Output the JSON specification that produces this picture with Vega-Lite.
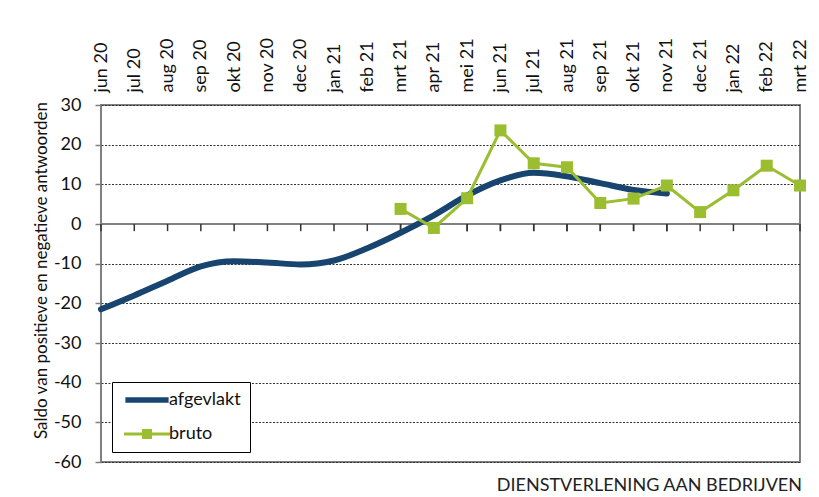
{
  "$schema": "https://vega.github.io/schema/vega-lite/v6.json",
  "autosize": {"type": "none"},
  "padding": {"left": 101, "top": 105, "right": 19, "bottom": 35},
  "width": 699,
  "height": 357,
  "background": "white",
  "title": {"text": "DIENSTVERLENING AAN BEDRIJVEN", "orient": "bottom", "anchor": "end", "font": "Lato", "fontSize": 18, "fontWeight": "normal", "color": "#222", "offset": 6, "dx": -7},
  "data": {"values": [
    {"month": "jun 20", "series": "afgevlakt", "value": -21.5},
    {"month": "jul 20", "series": "afgevlakt", "value": -18.0},
    {"month": "aug 20", "series": "afgevlakt", "value": -14.3},
    {"month": "sep 20", "series": "afgevlakt", "value": -10.7},
    {"month": "okt 20", "series": "afgevlakt", "value": -9.4},
    {"month": "nov 20", "series": "afgevlakt", "value": -9.7},
    {"month": "dec 20", "series": "afgevlakt", "value": -10.2},
    {"month": "jan 21", "series": "afgevlakt", "value": -9.2},
    {"month": "feb 21", "series": "afgevlakt", "value": -6.1},
    {"month": "mrt 21", "series": "afgevlakt", "value": -2.2},
    {"month": "apr 21", "series": "afgevlakt", "value": 2.2},
    {"month": "mei 21", "series": "afgevlakt", "value": 7.2},
    {"month": "jun 21", "series": "afgevlakt", "value": 11.0},
    {"month": "jul 21", "series": "afgevlakt", "value": 12.9},
    {"month": "aug 21", "series": "afgevlakt", "value": 12.0},
    {"month": "sep 21", "series": "afgevlakt", "value": 10.3},
    {"month": "okt 21", "series": "afgevlakt", "value": 8.6},
    {"month": "nov 21", "series": "afgevlakt", "value": 7.7},
    {"month": "mrt 21", "series": "bruto", "value": 3.8},
    {"month": "apr 21", "series": "bruto", "value": -1.0},
    {"month": "mei 21", "series": "bruto", "value": 6.5},
    {"month": "jun 21", "series": "bruto", "value": 23.6},
    {"month": "jul 21", "series": "bruto", "value": 15.3},
    {"month": "aug 21", "series": "bruto", "value": 14.3},
    {"month": "sep 21", "series": "bruto", "value": 5.3},
    {"month": "okt 21", "series": "bruto", "value": 6.4},
    {"month": "nov 21", "series": "bruto", "value": 9.7},
    {"month": "dec 21", "series": "bruto", "value": 3.0},
    {"month": "jan 22", "series": "bruto", "value": 8.5},
    {"month": "feb 22", "series": "bruto", "value": 14.7},
    {"month": "mrt 22", "series": "bruto", "value": 9.7}
  ]},
  "encoding": {
    "x": {
      "field": "month", "type": "ordinal",
      "scale": {"type": "point", "padding": 0, "domain": ["jun 20","jul 20","aug 20","sep 20","okt 20","nov 20","dec 20","jan 21","feb 21","mrt 21","apr 21","mei 21","jun 21","jul 21","aug 21","sep 21","okt 21","nov 21","dec 21","jan 22","feb 22","mrt 22"]},
      "axis": {"orient": "top", "title": null, "labelAngle": -90, "labelPadding": 13, "domain": false, "ticks": false, "grid": false, "labelFont": "Lato", "labelFontSize": 18, "labelColor": "#111", "labelAlign": "left", "labelBaseline": "middle"}
    },
    "y": {"field": "value", "type": "quantitative", "scale": {"domain": [-60, 30], "nice": false},
      "axis": {"title": "Saldo van positieve en negatieve antwoorden", "titleFont": "Lato", "titleFontSize": 17, "titleFontWeight": "normal", "titleColor": "#111", "titleX": -60, "titleY": 165, "titleAngle": -90, "titleAlign": "center", "titleBaseline": "middle",
        "values": [-60,-50,-40,-30,-20,-10,0,10,20,30], "labelOverlap": false,
        "labelExpr": "datum.value < 0 ? '-' + abs(datum.value) : '' + datum.value",
        "labelFont": "Lato", "labelFontSize": 18, "labelColor": "#111", "labelPadding": 14, "tickSize": 6, "tickColor": "#808080", "tickWidth": 1.5, "domain": false, "grid": true, "gridColor": "#333", "gridDash": [2, 1.5], "gridWidth": 1}}
  },
  "layer": [
    {
      "mark": {"type": "rule", "color": "#808080", "strokeWidth": 2},
      "encoding": {"x": null, "y": {"datum": 0, "type": "quantitative"}}
    },
    {
      "mark": {"type": "rule", "color": "#333", "strokeWidth": 1.5},
      "encoding": {"y": {"datum": 0, "type": "quantitative"}, "y2": {"datum": -1.8}}
    },
    {
      "transform": [{"filter": "datum.series === 'afgevlakt'"}],
      "mark": {"type": "line", "strokeWidth": 6, "interpolate": "monotone", "strokeCap": "round", "strokeJoin": "round"},
      "encoding": {
        "color": {"field": "series", "type": "nominal", "scale": {"domain": ["afgevlakt", "bruto"], "range": ["#17456F", "#9BBE30"]},
          "legend": {
            "orient": "none", "legendX": 11, "legendY": 277, "title": null,
            "strokeColor": "#000", "fillColor": "white", "padding": 9,
            "symbolSize": 144, "symbolOffset": 17, "labelOffset": 13, "rowPadding": 16,
            "labelFont": "Lato", "labelFontSize": 18, "labelColor": "#111",
            "encode": {"symbols": {"update": {
              "shape": [{"test": "datum.value === 'bruto'", "value": "M-3.83,-0.25L3.83,-0.25L3.83,0.25L-3.83,0.25Z M-0.83,-0.83L0.83,-0.83L0.83,0.83L-0.83,0.83Z"}, {"value": "M-3.6,-0.45L3.6,-0.45L3.6,0.45L-3.6,0.45Z"}],
              "fill": [{"test": "datum.value === 'bruto'", "value": "#9BBE30"}, {"value": "#17456F"}],
              "stroke": {"value": "transparent"},
              "strokeWidth": {"value": 0},
              "opacity": {"value": 1}
            }}}
          }}
      }
    },
    {
      "transform": [{"filter": "datum.series === 'bruto'"}],
      "mark": {"type": "line", "strokeWidth": 3},
      "encoding": {
        "color": {"field": "series", "type": "nominal"}
      }
    },
    {
      "transform": [{"filter": "datum.series === 'bruto'"}],
      "mark": {"type": "point", "shape": "square", "filled": true, "size": 144, "opacity": 1},
      "encoding": {
        "color": {"field": "series", "type": "nominal"}
      }
    }
  ],
  "config": {
    "view": {"stroke": "#808080", "strokeWidth": 2},
    "font": "Lato"
  }
}
